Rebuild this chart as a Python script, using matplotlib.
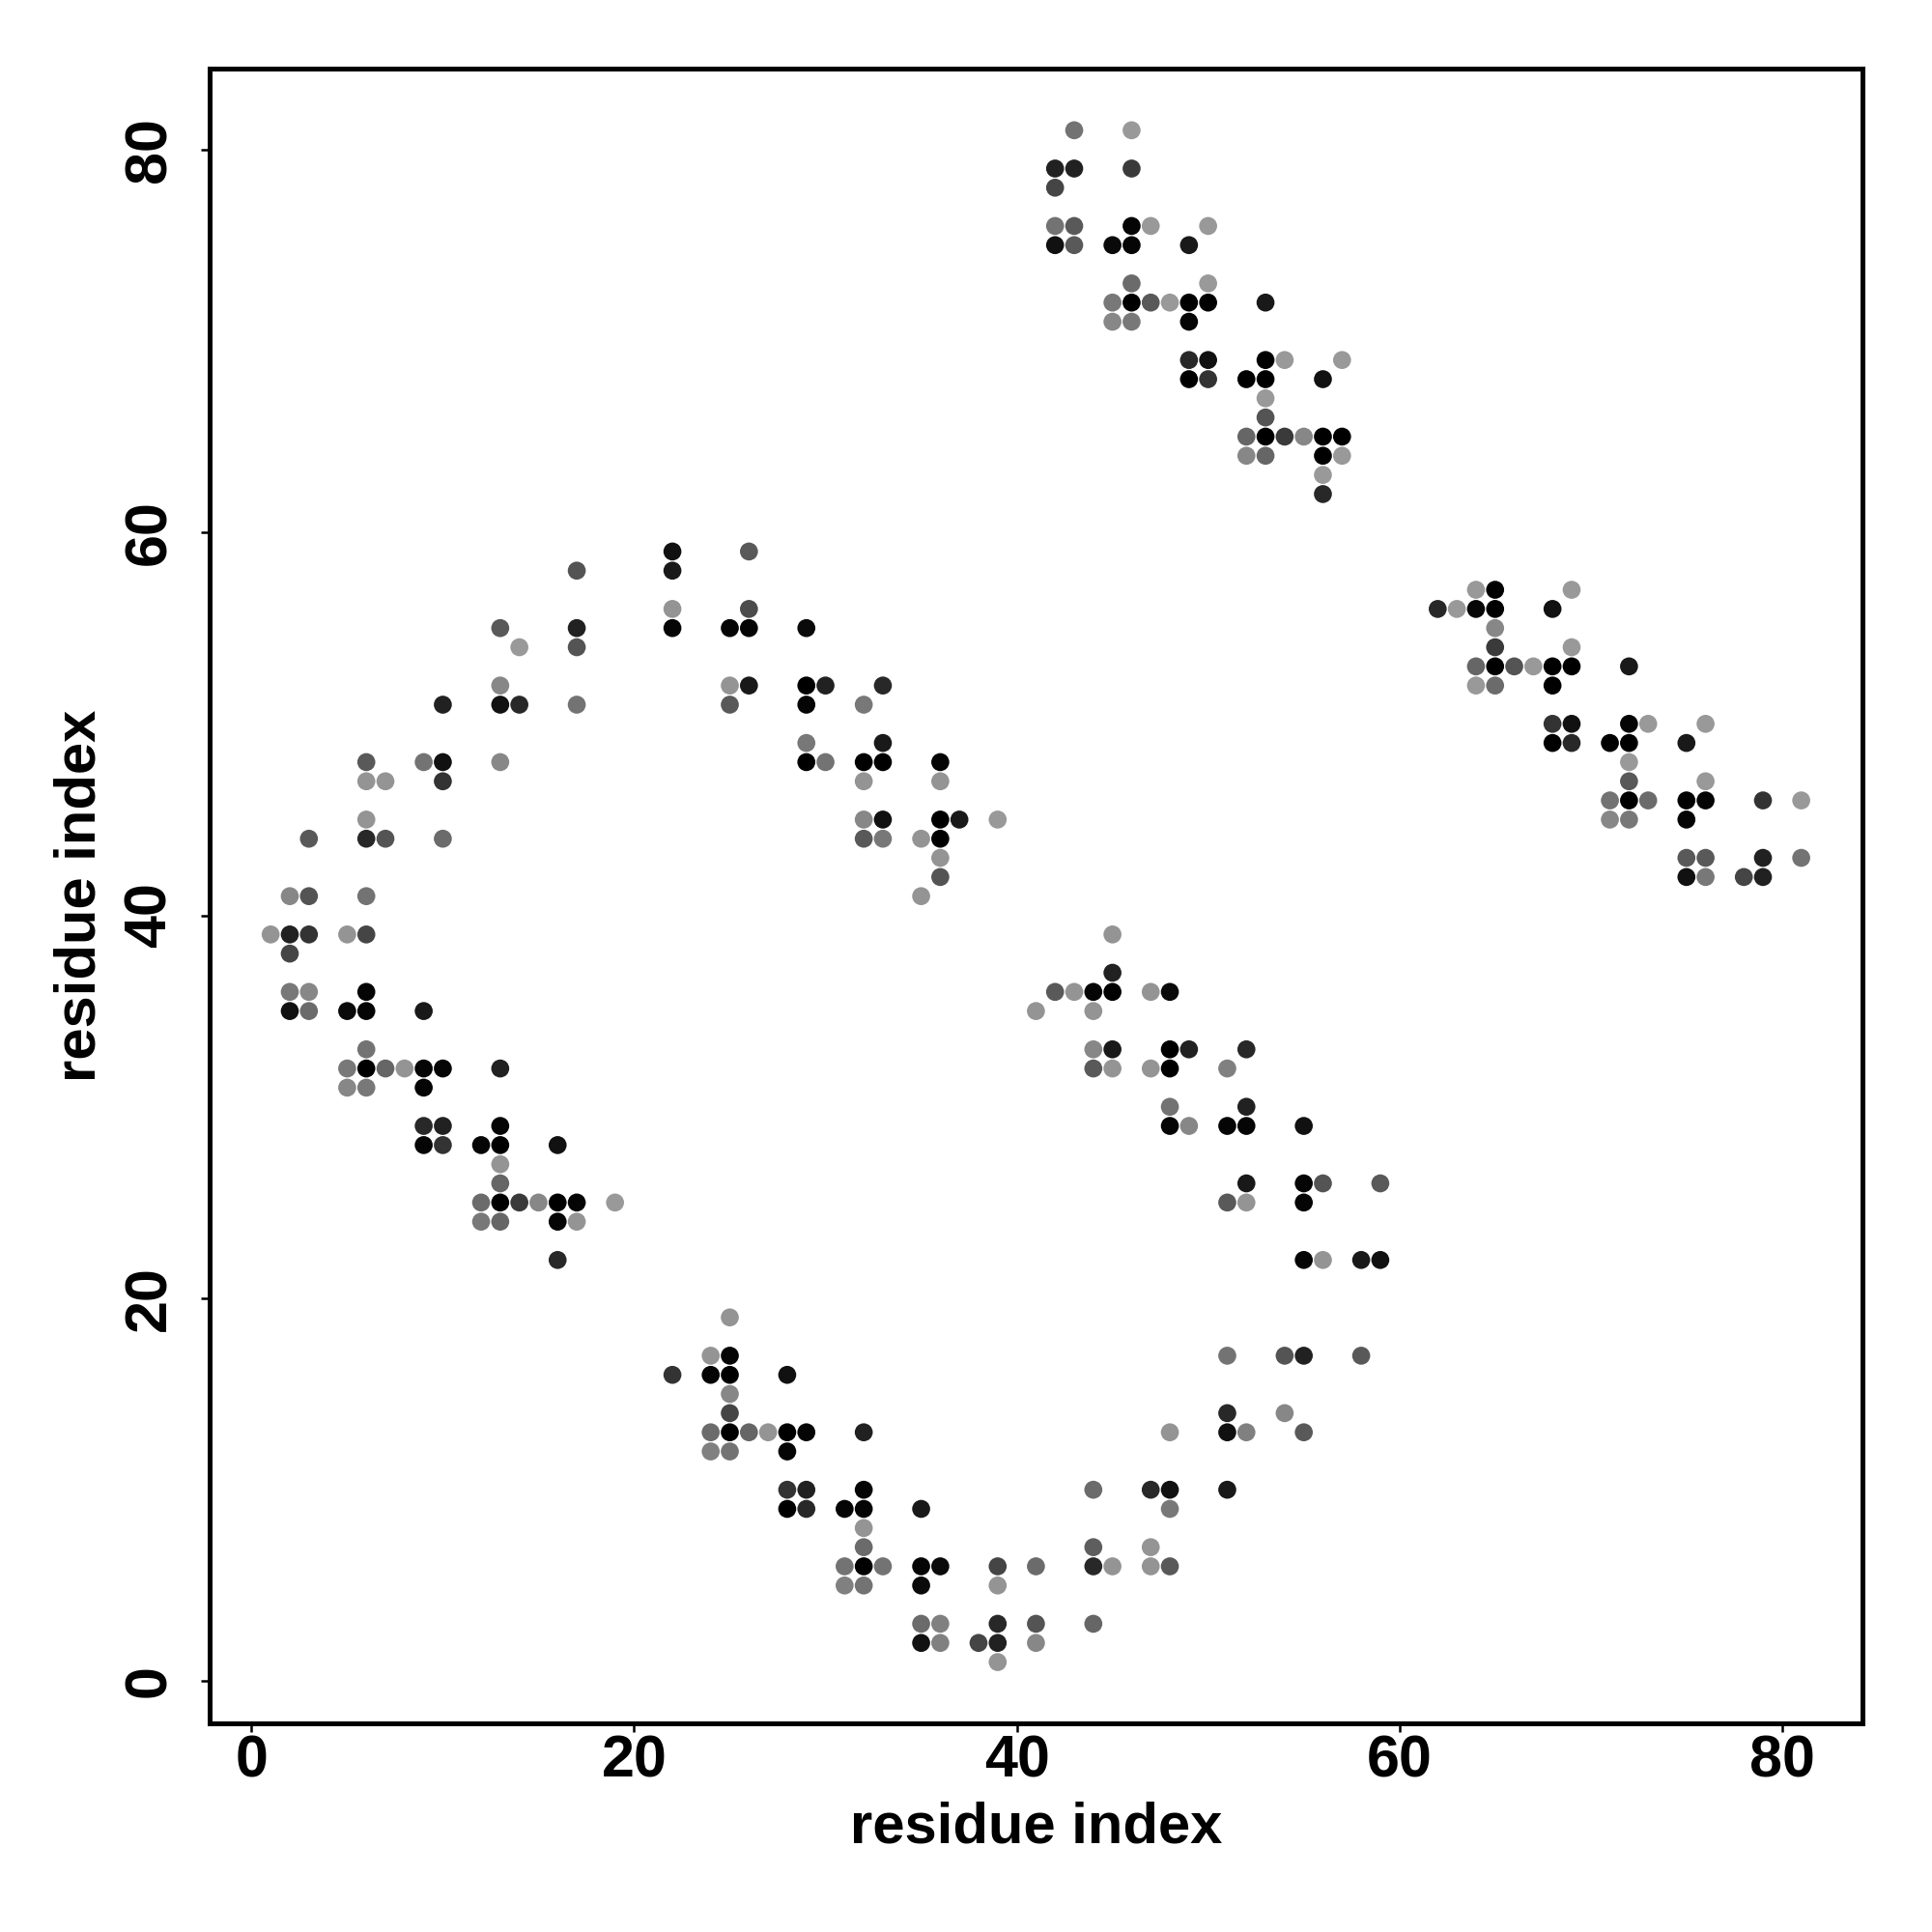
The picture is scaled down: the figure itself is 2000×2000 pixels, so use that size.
import matplotlib
matplotlib.use('Agg')
import matplotlib.pyplot as plt

# contact map: residue pair (res_i, res_j) and its grey shade (0 = black, 0.6 = light grey)
res_i = [
    # upper block
    43, 46, 42, 43, 46, 42, 42, 43, 46, 47, 50, 42, 43, 45, 46, 49,
    46, 50, 45, 46, 47, 48, 49, 50, 53, 45, 46, 49,
    49, 50, 53, 54, 57, 49, 50, 52, 53, 56, 53, 53,
    52, 53, 54, 55, 56, 57, 52, 53, 56, 57, 56, 56,
    # right block
    64, 65, 69, 62, 63, 64, 65, 68, 65, 65, 69,
    64, 65, 66, 67, 68, 69, 72, 64, 65, 68,
    68, 69, 72, 73, 76, 68, 69, 71, 72, 75, 72, 72, 76,
    71, 72, 73, 75, 76, 79, 81, 71, 72, 75,
    75, 76, 79, 81, 75, 76, 78, 79,
    # upper-left arc
    22, 26, 17, 22, 22, 26, 13, 17, 22, 25, 26, 29, 14, 17,
    13, 25, 26, 29, 30, 33, 10, 13, 14, 17, 25, 29, 32, 29, 33,
    6, 9, 10, 13, 29, 30, 32, 33, 36, 6, 7, 10, 32, 36,
    6, 32, 33, 36, 37, 39, 3, 6, 7, 10, 32, 33, 35, 36,
    36, 36, 2, 3, 6, 35,
    # lower-left block
    1, 2, 3, 5, 6, 2, 2, 3, 6, 2, 3, 5, 6, 9, 6,
    5, 6, 7, 8, 9, 10, 13, 5, 6, 9, 9, 10, 13,
    9, 10, 12, 13, 16, 13, 13,
    12, 13, 14, 15, 16, 17, 19, 12, 13, 16, 17, 16,
    # middle block
    45, 45, 42, 43, 44, 45, 47, 48, 41, 44,
    44, 45, 48, 49, 52, 44, 45, 47, 48, 51, 48, 52,
    48, 49, 51, 52, 55, 52, 55, 56, 59, 51, 52, 55,
    55, 56, 58, 59, 51, 54, 55, 58,
    # lower block
    25, 24, 25, 22, 24, 25, 28, 25, 25, 51, 54,
    24, 25, 26, 27, 28, 29, 32, 48, 51, 52, 55, 24, 25, 28,
    28, 29, 32, 44, 47, 48, 51, 28, 29, 31, 32, 35, 48, 32,
    32, 44, 47, 31, 32, 33, 35, 36, 39, 41, 44, 45, 47, 48,
    31, 32, 35, 39, 35, 36, 39, 41, 44, 35, 36, 38, 39, 41, 39,
]

res_j = [
    # upper block
    81, 81, 79, 79, 79, 78, 76, 76, 76, 76, 76, 75, 75, 75, 75, 75,
    73, 73, 72, 72, 72, 72, 72, 72, 72, 71, 71, 71,
    69, 69, 69, 69, 69, 68, 68, 68, 68, 68, 67, 66,
    65, 65, 65, 65, 65, 65, 64, 64, 64, 64, 63, 62,
    # right block
    57, 57, 57, 56, 56, 56, 56, 56, 55, 54, 54,
    53, 53, 53, 53, 53, 53, 53, 52, 52, 52,
    50, 50, 50, 50, 50, 49, 49, 49, 49, 49, 48, 47, 47,
    46, 46, 46, 46, 46, 46, 46, 45, 45, 45,
    43, 43, 43, 43, 42, 42, 42, 42,
    # upper-left arc
    59, 59, 58, 58, 56, 56, 55, 55, 55, 55, 55, 55, 54, 54,
    52, 52, 52, 52, 52, 52, 51, 51, 51, 51, 51, 51, 51, 49, 49,
    48, 48, 48, 48, 48, 48, 48, 48, 48, 47, 47, 47, 47, 47,
    45, 45, 45, 45, 45, 45, 44, 44, 44, 44, 44, 44, 44, 44,
    43, 42, 41, 41, 41, 41,
    # lower-left block
    39, 39, 39, 39, 39, 38, 36, 36, 36, 35, 35, 35, 35, 35, 33,
    32, 32, 32, 32, 32, 32, 32, 31, 31, 31, 29, 29, 29,
    28, 28, 28, 28, 28, 27, 26,
    25, 25, 25, 25, 25, 25, 25, 24, 24, 24, 24, 22,
    # middle block
    39, 37, 36, 36, 36, 36, 36, 36, 35, 35,
    33, 33, 33, 33, 33, 32, 32, 32, 32, 32, 30, 30,
    29, 29, 29, 29, 29, 26, 26, 26, 26, 25, 25, 25,
    22, 22, 22, 22, 17, 17, 17, 17,
    # lower block
    19, 17, 17, 16, 16, 16, 16, 15, 14, 14, 14,
    13, 13, 13, 13, 13, 13, 13, 13, 13, 13, 13, 12, 12, 12,
    10, 10, 10, 10, 10, 10, 10, 9, 9, 9, 9, 9, 9, 8,
    7, 7, 7, 6, 6, 6, 6, 6, 6, 6, 6, 6, 6, 6,
    5, 5, 5, 5, 3, 3, 3, 3, 3, 2, 2, 2, 2, 2, 1,
]

shade = [
    # upper block
    .45, .6, .13, .13, .23, .27, .45, .35, .02, .6, .6, .07, .35, .04, .02, .1,
    .42, .6, .47, 0, .35, .6, 0, 0, .1, .53, .47, .02,
    .16, .07, 0, .6, .6, 0, .2, 0, 0, .07, .6, .33,
    .4, 0, .23, .53, 0, 0, .53, .4, 0, .6, .6, .16,
    # right block
    .6, 0, .6, .16, .6, .03, 0, .07, .53, .23, .6,
    .4, 0, .33, .6, 0, 0, .1, .6, .42, 0,
    .2, .07, .02, .6, .6, 0, .16, 0, 0, .1, .6, .35, .6,
    .45, 0, .42, 0, .02, .2, .6, .53, .47, .02,
    .35, .35, .13, .45, .07, .47, .27, .13,
    # upper-left arc
    .07, .35, .33, .1, .58, .3, .35, .13, .02, .02, .02, .04, .6, .33,
    .53, .58, .1, 0, .13, .16, .13, .07, .16, .45, .35, .02, .47, .47, .1,
    .35, .45, .07, .53, 0, .45, 0, 0, .02, .58, .58, .2, .58, .58,
    .58, .53, .07, 0, .1, .6, .35, .16, .33, .42, .35, .47, .58, 0,
    .58, .33, .53, .33, .45, .58,
    # lower-left block
    .58, .13, .2, .58, .27, .27, .47, .53, .02, .07, .42, .04, .02, .1, .45,
    .47, 0, .4, .58, .02, .02, .13, .53, .47, .02, .16, .13, .02,
    .02, .2, .02, 0, .07, .58, .4,
    .42, 0, .23, .53, 0, .02, .6, .47, .4, .02, .58, .16,
    # middle block
    .58, .13, .35, .58, .02, 0, .58, .04, .58, .58,
    .53, .1, 0, .13, .16, .35, .58, .58, 0, .5, .45, .13,
    .02, .53, .02, .02, .07, .1, .02, .33, .35, .35, .58, .02,
    .02, .58, .1, .07, .45, .33, .13, .35,
    # lower block
    .58, .58, .02, .2, .02, 0, .07, .53, .27, .16, .53,
    .42, 0, .4, .58, 0, .02, .13, .58, .07, .5, .35, .5, .45, .02,
    .2, .13, .02, .42, .16, .07, .1, 0, .16, .02, .02, .1, .47, .58,
    .42, .37, .58, .45, 0, .45, .02, .04, .27, .42, .16, .58, .58, .35,
    .5, .45, .04, .58, .42, .5, .16, .33, .4, .07, .5, .27, .13, .53, .58,
]

x_ticks = [0, 20, 40, 60, 80]
y_ticks = [0, 20, 40, 60, 80]

assert len(res_i) == len(res_j) == len(shade)

plt.rcParams['font.family'] = ['Liberation Sans', 'DejaVu Sans']
plt.rcParams['font.weight'] = 'bold'

fig = plt.figure(figsize=(10, 10), dpi=200)
ax = fig.add_axes([0.1084, 0.108, 0.8556, 0.8563])

ax.scatter(res_i, res_j, c=shade, cmap='gray', vmin=0, vmax=1,
           s=45, linewidths=0)

ax.set_xlim(-2.2, 84.2)
ax.set_ylim(-2.2, 84.2)
ax.set_xticks(x_ticks)
ax.set_yticks(y_ticks)
ax.set_xticklabels([str(t) for t in x_ticks], fontsize=22, fontweight='bold')
ax.set_yticklabels([str(t) for t in y_ticks], fontsize=22, fontweight='bold',
                   rotation=90, va='center')
ax.tick_params(axis='both', direction='out', length=3.2, width=0.9)
ax.tick_params(axis='x', pad=1)
ax.tick_params(axis='y', pad=8.5)

for sp in ax.spines.values():
    sp.set_linewidth(1.8)

ax.set_xlabel('residue index', fontsize=21.5, fontweight='bold')
ax.set_ylabel('residue index', fontsize=21.5, fontweight='bold')
ax.xaxis.set_label_coords(0.5, -0.047)
ax.yaxis.set_label_coords(-0.062, 0.5)

fig.savefig('out.png', dpi=200)
